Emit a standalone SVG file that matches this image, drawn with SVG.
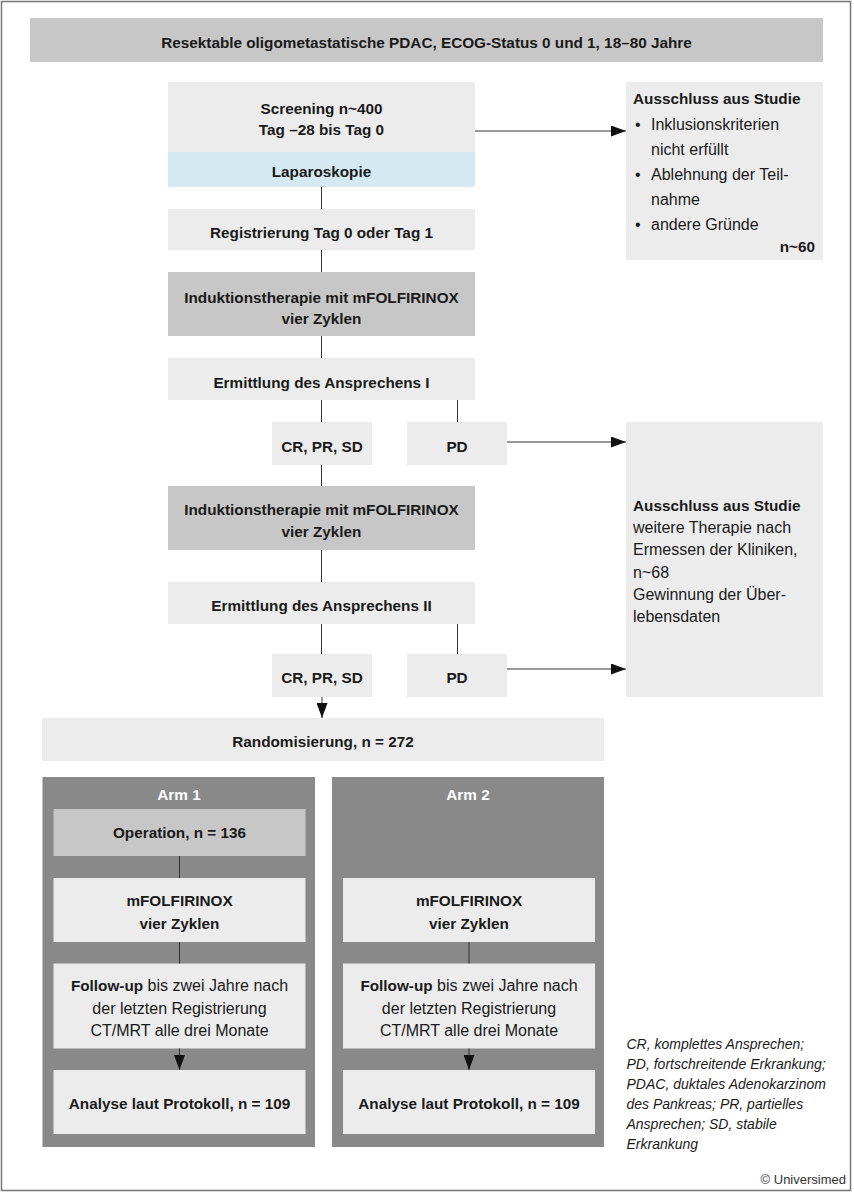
<svg xmlns="http://www.w3.org/2000/svg" width="854" height="1194" viewBox="0 0 854 1194">
<defs>
<marker id="arr" markerUnits="userSpaceOnUse" markerWidth="15" markerHeight="11" refX="15" refY="5.5" orient="auto">
<path d="M0,0 L15,5.5 L0,11 z" fill="#111"/>
</marker>
<style>
text{font-family:"Liberation Sans",Arial,sans-serif;fill:#1a1a1a}
.b{font-weight:bold;font-size:15.3px;text-anchor:middle}
.bl{font-weight:bold;font-size:15.3px}
.r{font-size:16px}
.rm{font-size:16px;text-anchor:middle}
.it{font-style:italic;font-size:14px}
.w{fill:#ffffff}
.light{fill:#ececec}
.mid{fill:#c7c7c7}
.blue{fill:#d4e9f2}
.arm{fill:#898989}
.ln{stroke:#333;stroke-width:1;fill:none}
.la{stroke:#333;stroke-width:1;fill:none;marker-end:url(#arr)}
</style>
</defs>
<rect x="1.5" y="1.5" width="849" height="1189" fill="#ffffff" stroke="#777" stroke-width="1.5"/>

<g id="title">
<rect x="30" y="18" width="793" height="44" class="mid"/>
<text class="b" x="426.5" y="48">Resektable oligometastatische PDAC, ECOG-Status 0 und 1, 18–80 Jahre</text>
</g>

<g id="screening">
<rect x="168" y="82" width="307" height="71" class="light"/>
<text class="b" x="321.5" y="114">Screening n~400</text>
<text class="b" x="321.5" y="135">Tag –28 bis Tag 0</text>
</g>
<g id="laparoskopie">
<rect x="168" y="152" width="307" height="35" class="blue"/>
<text class="b" x="321.5" y="176.5">Laparoskopie</text>
</g>
<g id="registrierung">
<rect x="168" y="209" width="307" height="41" class="light"/>
<text class="b" x="321.5" y="237.5">Registrierung Tag 0 oder Tag 1</text>
</g>
<g id="induktion1">
<rect x="168" y="272" width="307" height="64" class="mid"/>
<text class="b" x="321.5" y="302.5">Induktionstherapie mit mFOLFIRINOX</text>
<text class="b" x="321.5" y="323.5">vier Zyklen</text>
</g>
<g id="ermittlung1">
<rect x="168" y="358" width="307" height="42" class="light"/>
<text class="b" x="321.5" y="387.5">Ermittlung des Ansprechens I</text>
</g>
<g id="cr1">
<rect x="272" y="422" width="100" height="43" class="light"/>
<text class="b" x="322" y="451.5">CR, PR, SD</text>
</g>
<g id="pd1">
<rect x="407" y="422" width="100" height="43" class="light"/>
<text class="b" x="457" y="451.5">PD</text>
</g>
<g id="induktion2">
<rect x="168" y="486" width="307" height="64" class="mid"/>
<text class="b" x="321.5" y="515">Induktionstherapie mit mFOLFIRINOX</text>
<text class="b" x="321.5" y="536.5">vier Zyklen</text>
</g>
<g id="ermittlung2">
<rect x="168" y="582" width="307" height="42" class="light"/>
<text class="b" x="321.5" y="610.5">Ermittlung des Ansprechens II</text>
</g>
<g id="cr2">
<rect x="272" y="654" width="100" height="43" class="light"/>
<text class="b" x="322" y="683">CR, PR, SD</text>
</g>
<g id="pd2">
<rect x="407" y="654" width="100" height="43" class="light"/>
<text class="b" x="457" y="683">PD</text>
</g>

<g id="ausschluss1">
<rect x="626" y="82" width="197" height="178" class="light"/>
<text class="bl" x="633" y="103.5">Ausschluss aus Studie</text>
<text class="r" x="635" y="130">•</text>
<text class="r" x="651" y="130">Inklusionskriterien</text>
<text class="r" x="651" y="155">nicht erfüllt</text>
<text class="r" x="635" y="180">•</text>
<text class="r" x="651" y="180">Ablehnung der Teil-</text>
<text class="r" x="651" y="205">nahme</text>
<text class="r" x="635" y="229.5">•</text>
<text class="r" x="651" y="229.5">andere Gründe</text>
<text class="bl" x="815" y="251.5" style="text-anchor:end">n~60</text>
</g>

<g id="ausschluss2">
<rect x="626" y="422" width="197" height="275" class="light"/>
<text class="bl" x="633" y="510.5">Ausschluss aus Studie</text>
<text class="r" x="633" y="533">weitere Therapie nach</text>
<text class="r" x="633" y="555.3">Ermessen der Kliniken,</text>
<text class="r" x="633" y="577.6">n~68</text>
<text class="r" x="633" y="599.9">Gewinnung der Über-</text>
<text class="r" x="633" y="622.2">lebensdaten</text>
</g>

<g id="randomisierung">
<rect x="42" y="718" width="562" height="43" class="light"/>
<text class="b" x="323" y="747">Randomisierung, n = 272</text>
</g>

<g id="arm1">
<rect x="42.5" y="777" width="272.5" height="370" class="arm"/>
<text class="b w" x="179" y="799.5">Arm 1</text>
</g>
<g id="arm2">
<rect x="332" y="777" width="272" height="370" class="arm"/>
<text class="b w" x="468" y="799.5">Arm 2</text>
</g>

<g id="operation">
<rect x="53.5" y="809" width="252" height="47" class="mid"/>
<text class="b" x="179.5" y="837.5">Operation, n = 136</text>
</g>
<g id="mfolf1">
<rect x="53.5" y="878" width="252" height="64" class="light"/>
<text class="b" x="179.5" y="906">mFOLFIRINOX</text>
<text class="b" x="179.5" y="928.5">vier Zyklen</text>
</g>
<g id="followup1">
<rect x="53.5" y="963.5" width="252" height="85" class="light"/>
<text class="rm" x="179.5" y="991"><tspan style="font-weight:bold;font-size:15.3px">Follow-up</tspan> bis zwei Jahre nach</text>
<text class="rm" x="179.5" y="1013.5">der letzten Registrierung</text>
<text class="rm" x="179.5" y="1036">CT/MRT alle drei Monate</text>
</g>
<g id="analyse1">
<rect x="53.5" y="1070" width="252" height="64" class="light"/>
<text class="b" x="179.5" y="1109">Analyse laut Protokoll, n = 109</text>
</g>

<g id="mfolf2">
<rect x="343" y="878" width="252" height="64" class="light"/>
<text class="b" x="469" y="906">mFOLFIRINOX</text>
<text class="b" x="469" y="928.5">vier Zyklen</text>
</g>
<g id="followup2">
<rect x="343" y="963.5" width="252" height="85" class="light"/>
<text class="rm" x="469" y="991"><tspan style="font-weight:bold;font-size:15.3px">Follow-up</tspan> bis zwei Jahre nach</text>
<text class="rm" x="469" y="1013.5">der letzten Registrierung</text>
<text class="rm" x="469" y="1036">CT/MRT alle drei Monate</text>
</g>
<g id="analyse2">
<rect x="343" y="1070" width="252" height="64" class="light"/>
<text class="b" x="469" y="1109">Analyse laut Protokoll, n = 109</text>
</g>

<g id="footnote">
<text class="it" x="626.5" y="1049">CR, komplettes Ansprechen;</text>
<text class="it" x="626.5" y="1069">PD, fortschreitende Erkrankung;</text>
<text class="it" x="626.5" y="1089">PDAC, duktales Adenokarzinom</text>
<text class="it" x="626.5" y="1109">des Pankreas; PR, partielles</text>
<text class="it" x="626.5" y="1129">Ansprechen; SD, stabile</text>
<text class="it" x="626.5" y="1149">Erkrankung</text>
</g>
<g id="copyright">
<text x="846" y="1184" style="font-size:13px;text-anchor:end;fill:#333">© Universimed</text>
</g>

<g id="connectors">
<line class="la" x1="475" y1="131" x2="626" y2="131"/>
<line class="ln" x1="321.5" y1="187" x2="321.5" y2="209"/>
<line class="ln" x1="321.5" y1="250" x2="321.5" y2="272"/>
<line class="ln" x1="321.5" y1="336" x2="321.5" y2="358"/>
<line class="ln" x1="321.5" y1="400" x2="321.5" y2="422"/>
<line class="ln" x1="457.5" y1="400" x2="457.5" y2="422"/>
<line class="la" x1="507" y1="442" x2="626" y2="442"/>
<line class="ln" x1="321.5" y1="465" x2="321.5" y2="486"/>
<line class="ln" x1="321.5" y1="550" x2="321.5" y2="582"/>
<line class="ln" x1="321.5" y1="624" x2="321.5" y2="654"/>
<line class="ln" x1="457.5" y1="624" x2="457.5" y2="654"/>
<line class="la" x1="507" y1="669" x2="626" y2="669"/>
<line class="la" x1="322" y1="697" x2="322" y2="718"/>
<line class="ln" x1="179.5" y1="856" x2="179.5" y2="878"/>
<line class="ln" x1="179.5" y1="942" x2="179.5" y2="963.5"/>
<line class="la" x1="179.5" y1="1048.5" x2="179.5" y2="1070"/>
<line class="ln" x1="469" y1="942" x2="469" y2="963.5"/>
<line class="la" x1="469" y1="1048.5" x2="469" y2="1070"/>
</g>
</svg>
